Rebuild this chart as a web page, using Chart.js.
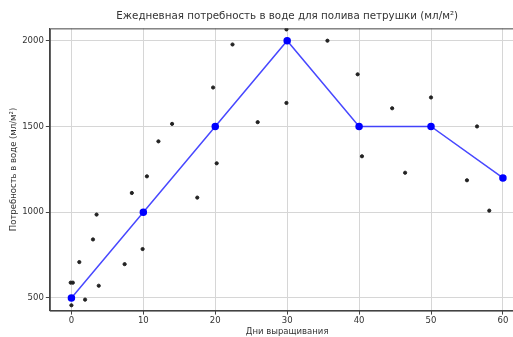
<!DOCTYPE html>
<html>
<head>
<meta charset="utf-8">
<script src="https://cdn.jsdelivr.net/npm/chart.js@4/dist/chart.umd.min.js"></script>
<style>
  html, body { margin: 0; padding: 0; background: #fff; overflow: hidden; }
  #wrap { width: 530px; height: 337px; }
</style>
</head>
<body>
<div id="wrap"><canvas id="c"></canvas></div>
<script>
// main curve (days -> ml/m2)
var days = [0, 10, 20, 30, 40, 50, 60];
var need = [500, 1000, 1500, 2000, 1500, 1500, 1200];

// noisy measurements around the curve
var obsDays = [-0.1, 0.2, 0.0, 1.1, 1.9, 3.0, 3.5, 3.8, 7.4, 8.4, 9.9, 10.5, 12.1, 14.0, 17.5,
  19.7, 20.2, 22.4, 25.9, 29.9, 29.9, 35.6, 39.8, 40.4, 44.6, 46.4, 50.0, 55.0, 56.4, 58.1];
var obsNeed = [589, 589, 457, 709, 490, 841, 986, 571, 697, 1112, 785, 1209, 1413, 1515, 1085,
  1727, 1285, 1978, 1525, 1637, 2066, 2000, 1804, 1326, 1606, 1230, 1669, 1186, 1500, 1009];

var xTicks = [0, 10, 20, 30, 40, 50, 60];
var yTicks = [500, 1000, 1500, 2000];

var font = 'DejaVu Sans';
var txt = '#333';

function pts(xs, ys) {
  var out = [];
  for (var i = 0; i < xs.length; i++) {
    out.push({ x: xs[i], y: ys[i] });
  }
  return out;
}

// box round the plot, like matplotlib spines; title centred over the axes
var frame = {
  id: 'frame',
  afterLayout: function (chart) {
    var t = chart.titleBlock;
    if (t) {
      t.left = chart.chartArea.left;
      t.right = chart.chartArea.right;
      t.width = t.right - t.left;
    }
  },
  afterDraw: function (chart) {
    var a = chart.chartArea;
    var ctx = chart.ctx;
    ctx.save();
    ctx.strokeStyle = '#444';
    ctx.lineWidth = 1;
    ctx.strokeRect(a.left + 0.5, a.top + 0.5, a.right - a.left, a.bottom - a.top);
    ctx.restore();
  }
};

new Chart(document.getElementById('c'), {
  type: 'scatter',
  data: {
    datasets: [
      {
        label: 'need',
        data: pts(days, need),
        showLine: true,
        borderColor: 'rgba(40,40,255,0.85)',
        borderWidth: 1.5,
        pointBackgroundColor: '#0000ff',
        pointBorderColor: '#0000ff',
        pointRadius: 3,
        order: 1
      },
      {
        label: 'obs',
        data: pts(obsDays, obsNeed),
        backgroundColor: '#222',
        borderColor: '#222',
        pointRadius: 1.6,
        order: 2
      }
    ]
  },
  options: {
    responsive: true,
    maintainAspectRatio: false,
    animation: false,
    layout: { padding: { left: 9, right: 5, top: 6, bottom: 0 } },
    plugins: {
      legend: { display: false },
      tooltip: { enabled: false },
      title: {
        display: true,
        text: 'Ежедневная потребность в воде для полива петрушки (мл/м²)',
        color: txt,
        font: { family: font, size: 10.3, weight: 'normal' },
        padding: { top: 4, bottom: 6 }
      }
    },
    scales: {
      x: {
        type: 'linear',
        min: -3,
        max: 63,
        afterBuildTicks: function (s) { s.ticks = xTicks.map(function (v) { return { value: v }; }); },
        grid: { color: '#d6d6d6', tickColor: '#444', tickLength: 4 },
        border: { color: '#444' },
        ticks: { color: txt, font: { family: font, size: 8.5 }, padding: 1, maxRotation: 0 },
        title: { display: true, text: 'Дни выращивания', color: txt, font: { family: font, size: 8.5 }, padding: { top: 0, bottom: 0 } }
      },
      y: {
        type: 'linear',
        min: 426,
        max: 2072,
        afterBuildTicks: function (s) { s.ticks = yTicks.map(function (v) { return { value: v }; }); },
        grid: { color: '#d6d6d6', tickColor: '#444', tickLength: 4 },
        border: { color: '#444' },
        ticks: {
          color: txt, font: { family: font, size: 8.5 }, padding: 2,
          callback: function (v) { return String(v); }
        },
        title: { display: true, text: 'Потребность в воде (мл/м²)', color: txt, font: { family: font, size: 8.5 }, padding: { top: 0, bottom: 1 } }
      }
    }
  },
  plugins: [frame]
});
</script>
</body>
</html>
